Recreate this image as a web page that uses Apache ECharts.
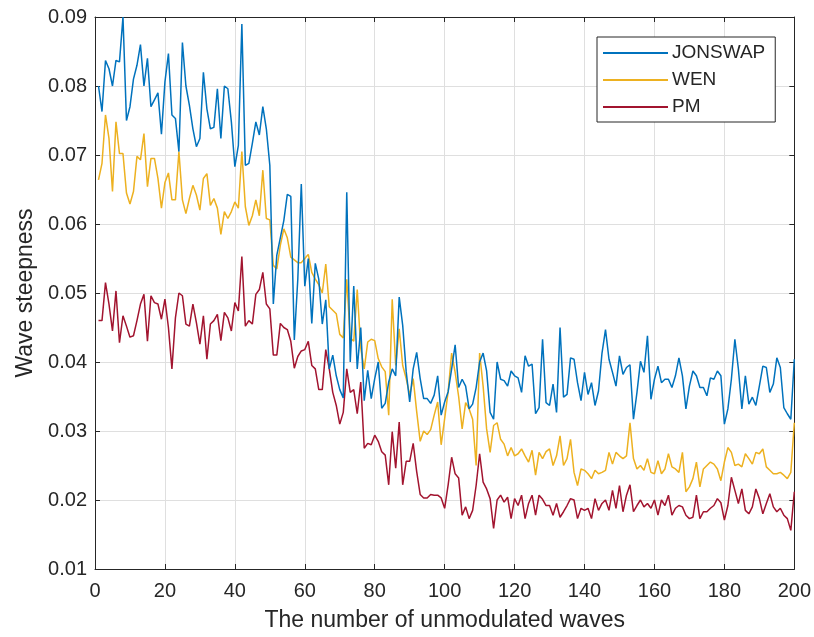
<!DOCTYPE html>
<html>
<head>
<meta charset="utf-8">
<title>Wave steepness</title>
<script src="https://cdn.jsdelivr.net/npm/echarts@6/dist/echarts.min.js"></script>
<style>
  html, body { margin: 0; padding: 0; background: #ffffff; }
  #chart { width: 814px; height: 637px; }
</style>
</head>
<body>
<div id="chart"></div>
<script>
// Wave steepness for waves 1..200, three spectra
const jonswap = [
  0.080, 0.0763, 0.0837, 0.0825, 0.080, 0.0837, 0.0835, 0.090, 0.075, 0.077,
  0.081, 0.083, 0.086, 0.080, 0.084, 0.077, 0.078, 0.079, 0.073, 0.0806,
  0.0847, 0.0758, 0.0753, 0.0705, 0.0863, 0.080, 0.0772, 0.0738, 0.0712, 0.0724,
  0.082, 0.0767, 0.0738, 0.074, 0.0796, 0.0724, 0.080, 0.0796, 0.0748, 0.0683,
  0.0714, 0.089, 0.0685, 0.0688, 0.0717, 0.0748, 0.0729, 0.077, 0.0738, 0.0685,
  0.0484, 0.0555, 0.058, 0.0605, 0.0643, 0.064, 0.0432, 0.052, 0.0658, 0.051,
  0.055, 0.0456, 0.0543, 0.052, 0.0455, 0.049, 0.039, 0.041, 0.038, 0.036,
  0.0348, 0.0646, 0.040, 0.051, 0.039, 0.045, 0.0344, 0.0388, 0.0347, 0.0376,
  0.040, 0.0333, 0.034, 0.0371, 0.039, 0.038, 0.0494, 0.0453, 0.0386, 0.0342,
  0.039, 0.0414, 0.0376, 0.0347, 0.0347, 0.034, 0.0352, 0.038, 0.0323, 0.0342,
  0.0357, 0.039, 0.0425, 0.0363, 0.0375, 0.0365, 0.0332, 0.0339, 0.0363, 0.040,
  0.0413, 0.0387, 0.0327, 0.0317, 0.040, 0.0375, 0.0373, 0.0365, 0.0387, 0.038,
  0.0377, 0.0356, 0.0409, 0.0394, 0.0397, 0.0325, 0.0334, 0.0433, 0.0341, 0.0337,
  0.0368, 0.0327, 0.045, 0.0349, 0.0353, 0.0406, 0.0404, 0.037, 0.0344, 0.0385,
  0.0353, 0.037, 0.0337, 0.0358, 0.0413, 0.0447, 0.0404, 0.0385, 0.0365, 0.0409,
  0.0382, 0.0392, 0.0396, 0.0317, 0.0356, 0.0401, 0.0385, 0.0438, 0.0346, 0.0375,
  0.0394, 0.037, 0.0375, 0.0375, 0.0363, 0.038, 0.0406, 0.038, 0.0332, 0.0365,
  0.0387, 0.038, 0.0363, 0.0363, 0.0351, 0.0377, 0.0375, 0.0387, 0.038, 0.031,
  0.0332, 0.0375, 0.0433, 0.039, 0.0332, 0.038, 0.0339, 0.0349, 0.0337, 0.0365,
  0.0394, 0.0392, 0.0356, 0.0368, 0.0406, 0.0392, 0.0334, 0.0325, 0.0317, 0.0404
];

const wen = [
  0.0664, 0.0688, 0.0758, 0.0724, 0.0647, 0.0748, 0.0702, 0.0702, 0.0645, 0.0629,
  0.0647, 0.0698, 0.0693, 0.0731, 0.0654, 0.0695, 0.0695, 0.0666, 0.0623, 0.066,
  0.0674, 0.0635, 0.0635, 0.0705, 0.0635, 0.0615, 0.0637, 0.0656, 0.0642, 0.062,
  0.0666, 0.0673, 0.0627, 0.0637, 0.0623, 0.0585, 0.0618, 0.0608, 0.0618, 0.0632,
  0.0623, 0.0705, 0.0625, 0.0598, 0.0612, 0.0635, 0.0612, 0.0678, 0.0608, 0.0606,
  0.054, 0.0535, 0.0569, 0.0593, 0.058, 0.0552, 0.0548, 0.0544, 0.0544, 0.055,
  0.0556, 0.053, 0.052, 0.0512, 0.050, 0.0542, 0.048, 0.0475, 0.047, 0.044,
  0.0435, 0.052, 0.0435, 0.043, 0.0505, 0.042, 0.039, 0.0429, 0.0433, 0.0431,
  0.0405, 0.0393, 0.0386, 0.0323, 0.0491, 0.0395, 0.0448, 0.0395, 0.0376, 0.0352,
  0.0376, 0.0328, 0.0285, 0.030, 0.0295, 0.0302, 0.0323, 0.0342, 0.028, 0.0318,
  0.0357, 0.0413, 0.0385, 0.035, 0.0303, 0.0341, 0.0332, 0.0317, 0.025, 0.0413,
  0.0365, 0.0303, 0.0269, 0.0308, 0.0312, 0.0288, 0.0281, 0.0264, 0.0276, 0.0264,
  0.0267, 0.0274, 0.0264, 0.0255, 0.0272, 0.0236, 0.0269, 0.026, 0.027, 0.0274,
  0.025, 0.0264, 0.0293, 0.025, 0.026, 0.0288, 0.024, 0.0221, 0.0245, 0.0243,
  0.0238, 0.0231, 0.0243, 0.0238, 0.024, 0.0243, 0.0269, 0.0252, 0.0269, 0.0264,
  0.026, 0.0264, 0.0312, 0.026, 0.0245, 0.025, 0.0243, 0.026, 0.024, 0.0238,
  0.0257, 0.0238, 0.0245, 0.0267, 0.0248, 0.0245, 0.024, 0.0269, 0.0212, 0.0219,
  0.0231, 0.0255, 0.0219, 0.0245, 0.025, 0.0255, 0.0252, 0.0245, 0.0228, 0.0255,
  0.0276, 0.0269, 0.025, 0.0252, 0.0248, 0.0267, 0.026, 0.0252, 0.0269, 0.0267,
  0.0274, 0.0248, 0.0243, 0.0238, 0.0238, 0.024, 0.0236, 0.0231, 0.024, 0.0312
];

const pm = [
  0.046, 0.046, 0.0515, 0.0484, 0.0445, 0.0503, 0.0428, 0.0467, 0.0452, 0.0436,
  0.0438, 0.046, 0.0484, 0.0498, 0.043, 0.0496, 0.0486, 0.0484, 0.0462, 0.0491,
  0.045, 0.039, 0.0464, 0.050, 0.0496, 0.0455, 0.0452, 0.0484, 0.0457, 0.0426,
  0.0467, 0.0404, 0.0455, 0.046, 0.0469, 0.0431, 0.0472, 0.0464, 0.0445, 0.0486,
  0.0474, 0.0553, 0.0452, 0.046, 0.0455, 0.0498, 0.0505, 0.053, 0.0484, 0.0477,
  0.041, 0.041, 0.0456, 0.045, 0.0447, 0.043, 0.0391, 0.0408, 0.0416, 0.0418,
  0.043, 0.0395, 0.039, 0.036, 0.036, 0.0418, 0.039, 0.0356, 0.0337, 0.031,
  0.0327, 0.039, 0.0356, 0.036, 0.0325, 0.0371, 0.0275, 0.0282, 0.028, 0.0294,
  0.0285, 0.027, 0.0265, 0.0222, 0.0299, 0.0246, 0.0313, 0.0222, 0.0256, 0.0256,
  0.0282, 0.0241, 0.0208, 0.0203, 0.0203, 0.0208, 0.0207, 0.0207, 0.0203, 0.0188,
  0.0222, 0.0262, 0.0238, 0.0232, 0.0178, 0.019, 0.0173, 0.0185, 0.0221, 0.0267,
  0.0226, 0.0216, 0.0202, 0.0159, 0.020, 0.0207, 0.0197, 0.0204, 0.0173, 0.0202,
  0.0192, 0.0207, 0.0173, 0.0195, 0.0207, 0.0178, 0.0207, 0.0201, 0.0192, 0.0192,
  0.0178, 0.0195, 0.0175, 0.0183, 0.0192, 0.0202, 0.020, 0.0173, 0.0188, 0.0185,
  0.0188, 0.0173, 0.0202, 0.0185, 0.0195, 0.020, 0.0185, 0.0214, 0.0188, 0.0221,
  0.0183, 0.0207, 0.0222, 0.0183, 0.0192, 0.020, 0.019, 0.0195, 0.0188, 0.020,
  0.0178, 0.020, 0.0192, 0.0207, 0.0178, 0.0188, 0.0192, 0.019, 0.0178, 0.0173,
  0.0175, 0.0207, 0.0173, 0.0183, 0.0183, 0.0188, 0.0192, 0.0202, 0.0196, 0.0171,
  0.0192, 0.0233, 0.0214, 0.0195, 0.0216, 0.0185, 0.018, 0.019, 0.0216, 0.0202,
  0.018, 0.0195, 0.0209, 0.019, 0.0183, 0.0188, 0.0178, 0.0173, 0.0156, 0.0212
];

const seriesNames = ['JONSWAP', 'WEN', 'PM'];
const seriesColors = ['#0072BD', '#EDB120', '#A2142F'];

const xTicks = { min: 0, max: 200, step: 20 };
const yTicks = { min: 0.01, max: 0.09, step: 0.01 };

const FONT = '"Liberation Sans", Arial, Helvetica, sans-serif';
const INK = '#262626';
const GRID = '#dfdfdf';

// pair each value with its wave number (1-based)
const toPairs = arr => arr.map((v, i) => [i + 1, v]);

const chart = echarts.init(document.getElementById('chart'), null, { renderer: 'canvas' });

// top and right axes close the box; ticks only, no labels
const frameAxis = {
  axisLine: { show: true, onZero: false, lineStyle: { color: INK, width: 1 } },
  axisTick: { show: true, inside: true, length: 5, lineStyle: { color: INK, width: 1 } },
  axisLabel: { show: false },
  splitLine: { show: false }
};

chart.setOption({
  animation: false,
  backgroundColor: '#ffffff',
  textStyle: { fontFamily: FONT, color: INK },
  grid: { left: 95, top: 17, width: 702, height: 555, containLabel: false },
  legend: {
    orient: 'vertical',
    left: 597,
    top: 37,
    width: 178,
    padding: [6, 10, 5, 6],
    itemGap: 7,
    itemWidth: 65,
    itemHeight: 2,
    icon: 'rect',
    borderColor: INK,
    borderWidth: 1,
    borderRadius: 0,
    backgroundColor: '#ffffff',
    textStyle: { fontFamily: FONT, fontSize: 19, color: INK, lineHeight: 20, padding: [0, 0, 0, -1] },
    data: seriesNames
  },
  xAxis: [
    {
      type: 'value',
      min: xTicks.min, max: xTicks.max, interval: xTicks.step,
      name: 'The number of unmodulated waves',
      nameLocation: 'middle',
      nameGap: 40,
      nameTextStyle: { fontFamily: FONT, fontSize: 23, color: INK },
      axisLine: { show: true, onZero: false, lineStyle: { color: INK, width: 1 } },
      axisTick: { show: true, inside: true, length: 5, lineStyle: { color: INK, width: 1 } },
      axisLabel: { fontFamily: FONT, fontSize: 20, color: INK, margin: 12 },
      splitLine: { show: true, lineStyle: { color: GRID, width: 1 } }
    },
    Object.assign({
      type: 'value', position: 'top',
      min: xTicks.min, max: xTicks.max, interval: xTicks.step
    }, frameAxis)
  ],
  yAxis: [
    {
      type: 'value',
      min: yTicks.min, max: yTicks.max, interval: yTicks.step,
      name: 'Wave steepness',
      nameLocation: 'middle',
      nameGap: 54,
      nameTextStyle: { fontFamily: FONT, fontSize: 23, color: INK },
      axisLine: { show: true, onZero: false, lineStyle: { color: INK, width: 1 } },
      axisTick: { show: true, inside: true, length: 5, lineStyle: { color: INK, width: 1 } },
      axisLabel: {
        fontFamily: FONT, fontSize: 20, color: INK, margin: 8,
        formatter: v => v.toFixed(2)
      },
      splitLine: { show: true, lineStyle: { color: GRID, width: 1 } }
    },
    Object.assign({
      type: 'value', position: 'right',
      min: yTicks.min, max: yTicks.max, interval: yTicks.step
    }, frameAxis)
  ],
  series: [jonswap, wen, pm].map((arr, k) => ({
    name: seriesNames[k],
    type: 'line',
    xAxisIndex: 0,
    yAxisIndex: 0,
    data: toPairs(arr),
    showSymbol: false,
    symbol: 'none',
    smooth: false,
    color: seriesColors[k],
    lineStyle: { color: seriesColors[k], width: 1.5 },
    z: 3 - k
  }))
});
</script>
</body>
</html>
